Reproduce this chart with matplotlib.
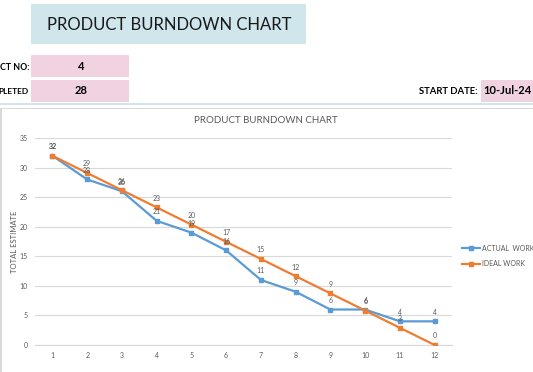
import matplotlib
matplotlib.use("Agg")
import matplotlib.pyplot as plt
from matplotlib.patches import Rectangle

# ─── Daten ────────────────────────────────────────────────────────────────────
tage = [1, 2, 3, 4, 5, 6, 7, 8, 9, 10, 11, 12]
actual_work = [32, 28, 26, 21, 19, 16, 11, 9, 6, 6, 4, 4]
ideal_work = [32, 29.09, 26.18, 23.27, 20.36, 17.45, 14.55, 11.64, 8.73,
              5.82, 2.91, 0]
y_ticks = [0, 5, 10, 15, 20, 25, 30, 35]

product_no = "4"
completed = "28"
start_date = "10-Jul-24"

BLAU = "#5b9bd5"
ORANGE = "#ed7d31"
GRAU = "#595959"

W, H = 533, 372
plt.rcParams["font.family"] = ["Lato", "DejaVu Sans"]

fig = plt.figure(figsize=(W / 100, H / 100), dpi=100)


def px(x, y):
    # Pixel (oben links) -> Figure-Koordinaten
    return x / W, 1 - y / H


def box(x0, y0, x1, y1, color):
    fx, fy = px(x0, y1)
    fig.add_artist(Rectangle((fx, fy), (x1 - x0) / W, (y1 - y0) / H,
                             transform=fig.transFigure, facecolor=color,
                             edgecolor="none", zorder=0))


# ─── Kopfbereich ──────────────────────────────────────────────────────────────
box(31, 4, 306, 44, "#cfe6ec")
fig.text(*px(169, 25), "PRODUCT BURNDOWN CHART", fontsize=12,
         ha="center", va="center", color="#1a1a1a")

box(31, 55, 129, 77, "#f0d2e0")
box(31, 80, 129, 102, "#f0d2e0")
box(481, 80, 533, 102, "#f0d2e0")

fig.text(*px(29, 67), "CT NO:", fontsize=6.3, fontweight="bold",
         ha="right", va="center")
fig.text(*px(29, 91), "PLETED", fontsize=6.0, fontweight="bold",
         ha="right", va="center")
fig.text(*px(81, 67), product_no, fontsize=8, fontweight="bold",
         ha="center", va="center")
fig.text(*px(81, 91), completed, fontsize=8, fontweight="bold",
         ha="center", va="center")
fig.text(*px(478, 91), "START DATE:", fontsize=6.8, fontweight="bold",
         ha="right", va="center")
fig.text(*px(507, 91), start_date, fontsize=8, fontweight="bold",
         ha="center", va="center")

# Trennlinie + Diagrammrahmen
box(0, 103, 533, 105, "#cfe6ec")
box(0, 108, 533, 109, "#d9d9d9")
box(0, 108, 2, 372, "#d9d9d9")

# ─── Diagramm ─────────────────────────────────────────────────────────────────
l, b = px(35, 345)
r, t = px(452, 138)
ax = fig.add_axes([l, b, r - l, t - b])

ax.plot(tage, actual_work, color=BLAU, lw=1.6, marker="s", ms=2.5,
        label="ACTUAL  WORK", zorder=3)
ax.plot(tage, ideal_work, color=ORANGE, lw=1.6, marker="s", ms=2.5,
        label="IDEAL WORK", zorder=3)

for x, y in zip(tage, actual_work):
    ax.annotate(f"{y:.0f}", (x, y), xytext=(0, 4), textcoords="offset points",
                ha="center", va="bottom", fontsize=5, color=GRAU)
for x, y in zip(tage, ideal_work):
    ax.annotate(f"{y:.0f}", (x, y), xytext=(0, 4), textcoords="offset points",
                ha="center", va="bottom", fontsize=5, color=GRAU)

ax.set_xlim(0.5, 12.5)
ax.set_ylim(0, 35)
ax.set_xticks(tage)
ax.set_yticks(y_ticks)
ax.tick_params(labelsize=5, colors=GRAU, length=0, pad=5)
ax.grid(axis="y", color="#d9d9d9", lw=0.8)
ax.set_axisbelow(True)
for s in ["top", "right", "left"]:
    ax.spines[s].set_visible(False)
ax.spines["bottom"].set_color("#d9d9d9")
ax.set_ylabel("TOTAL ESTIMATE", fontsize=5.5, color=GRAU)
ax.yaxis.set_label_coords(-17 / (452 - 35), 0.5)

fig.text(*px(266, 121), "PRODUCT BURNDOWN CHART", fontsize=7,
         ha="center", va="center", color=GRAU)

ax.legend(loc="center left", bbox_to_anchor=(1.01, 0.43), frameon=False,
          fontsize=5, handlelength=2.6, labelspacing=1.2, handletextpad=0.2,
          labelcolor=GRAU)

fig.savefig("out.png", dpi=100)
